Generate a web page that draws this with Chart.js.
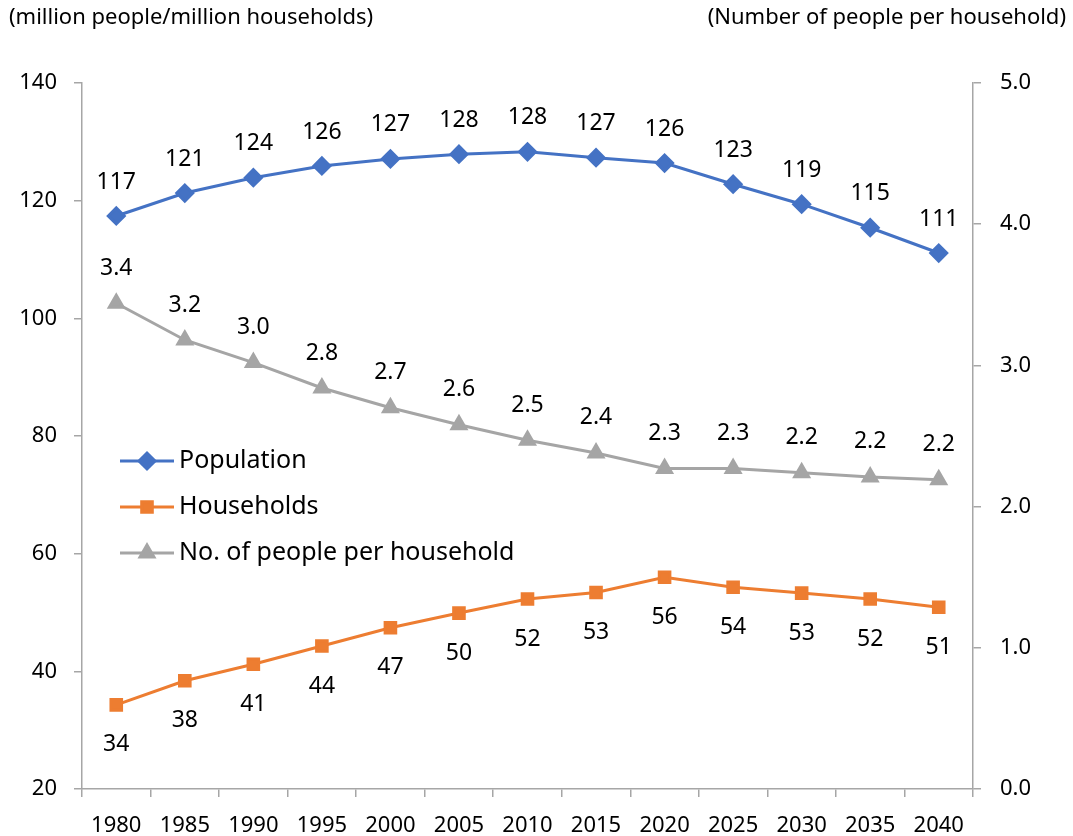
<!DOCTYPE html>
<html>
<head>
<meta charset="utf-8">
<script src="https://cdn.jsdelivr.net/npm/chart.js@4.4.1/dist/chart.umd.min.js"></script>
<style>
  html, body { margin: 0; padding: 0; background: #fff; }
  #wrap { width: 1073px; height: 836px; position: relative; }
</style>
</head>
<body>
<div id="wrap"><canvas id="popChart" width="1073" height="836"></canvas></div>
<script>
// Data
const years = ['1980', '1985', '1990', '1995', '2000', '2005', '2010', '2015', '2020', '2025', '2030', '2035', '2040'];
const population = [117.4, 121.3, 123.9, 125.9, 127.1, 127.9, 128.3, 127.3, 126.4, 122.8, 119.4, 115.4, 111.1];
const households = [34.3, 38.4, 41.2, 44.3, 47.4, 49.9, 52.3, 53.4, 56.0, 54.3, 53.3, 52.3, 50.9];
const perHousehold = [3.44, 3.18, 3.02, 2.84, 2.70, 2.58, 2.47, 2.38, 2.27, 2.27, 2.24, 2.21, 2.19];
const leftTitle = '(million people/million households)';
const rightTitle = '(Number of people per household)';

const FONT = '"Noto Sans", "Open Sans", sans-serif';
const axisGray = '#A6A6A6';

// Draw value labels above / below points
const valueLabels = {
    id: 'valueLabels',
    afterDatasetsDraw(chart) {
        const ctx = chart.ctx;
        ctx.save();
        ctx.font = '23px ' + FONT;
        ctx.fillStyle = '#000';
        ctx.textAlign = 'center';
        ctx.textBaseline = 'middle';
        chart.data.datasets.forEach((ds, i) => {
            const meta = chart.getDatasetMeta(i);
            meta.data.forEach((pt, j) => {
                const v = ds.data[j];
                const txt = ds.decimals ? v.toFixed(ds.decimals) : Math.round(v).toString();
                ctx.fillText(txt, pt.x, pt.y + ds.labelOffset);
            });
        });
        ctx.restore();
    }
};

// Axis titles and in-plot legend
const extras = {
    id: 'extras',
    afterDraw(chart) {
        const ctx = chart.ctx;
        ctx.save();
        ctx.fillStyle = '#000';
        ctx.font = '22px ' + FONT;
        ctx.textBaseline = 'middle';
        ctx.textAlign = 'left';
        ctx.fillText(leftTitle, 9, 18);
        ctx.textAlign = 'right';
        ctx.fillText(rightTitle, 1066, 18);

        const x0 = 120, x1 = 174, y0 = 461, gap = 46;
        chart.data.datasets.forEach((ds, i) => {
            const y = y0 + i * gap;
            ctx.strokeStyle = ds.borderColor;
            ctx.lineWidth = 3;
            ctx.beginPath();
            ctx.moveTo(x0, y);
            ctx.lineTo(x1, y);
            ctx.stroke();
            ctx.fillStyle = ds.backgroundColor;
            ctx.strokeStyle = ds.borderColor;
            Chart.helpers.drawPoint(ctx, {
                pointStyle: ds.pointStyle,
                radius: ds.pointRadius,
                rotation: 0,
                borderWidth: 1
            }, (x0 + x1) / 2, y);
            ctx.fillStyle = '#000';
            ctx.font = '25px ' + FONT;
            ctx.textAlign = 'left';
            ctx.fillText(ds.label, x1 + 5, y);
        });
        ctx.restore();
    }
};

const config = {
    type: 'line',
    data: {
        labels: years,
        datasets: [{
            label: 'Population',
            data: population,
            yAxisID: 'y',
            borderColor: '#4472C4',
            backgroundColor: '#4472C4',
            borderWidth: 3,
            pointStyle: 'rectRot',
            pointRadius: 8,
            labelOffset: -34,
            decimals: 0
        }, {
            label: 'Households',
            data: households,
            yAxisID: 'y',
            borderColor: '#ED7D31',
            backgroundColor: '#ED7D31',
            borderWidth: 3,
            pointStyle: 'rect',
            pointRadius: 7.5,
            labelOffset: 40,
            decimals: 0
        }, {
            label: 'No. of people per household',
            data: perHousehold,
            yAxisID: 'y1',
            borderColor: '#A5A5A5',
            backgroundColor: '#A5A5A5',
            borderWidth: 3,
            pointStyle: 'triangle',
            pointRadius: 8,
            labelOffset: -35,
            decimals: 1
        }]
    },
    options: {
        responsive: false,
        animation: false,
        layout: { padding: { top: 83, left: 0, right: 0, bottom: 0 } },
        plugins: {
            legend: { display: false },
            tooltip: { enabled: false }
        },
        scales: {
            x: {
                offset: true,
                grid: { drawOnChartArea: false, drawTicks: true, tickLength: 8, color: axisGray, lineWidth: 1.5, offset: true },
                border: { color: axisGray, width: 1.5 },
                ticks: { color: '#000', font: { family: FONT, size: 22 }, padding: 16, maxRotation: 0, autoSkip: false },
                afterFit(scale) { scale.height = 47; }
            },
            y: {
                position: 'left',
                min: 20, max: 140,
                grid: { drawOnChartArea: false, drawTicks: true, tickLength: 8, color: axisGray, lineWidth: 1.5 },
                border: { color: axisGray, width: 1.5 },
                ticks: { stepSize: 20, color: '#000', font: { family: FONT, size: 22 }, padding: 17 },
                afterFit(scale) { scale.width = 82; }
            },
            y1: {
                position: 'right',
                min: 0, max: 5,
                grid: { drawOnChartArea: false, drawTicks: true, tickLength: 8, color: axisGray, lineWidth: 1.5 },
                border: { color: axisGray, width: 1.5 },
                ticks: { stepSize: 1, color: '#000', font: { family: FONT, size: 22 }, padding: 19,
                    callback: v => v.toFixed(1) },
                afterFit(scale) { scale.width = 100; }
            }
        }
    },
    plugins: [valueLabels, extras]
};

const ctx = document.getElementById('popChart').getContext('2d');
new Chart(ctx, config);
</script>
</body>
</html>
